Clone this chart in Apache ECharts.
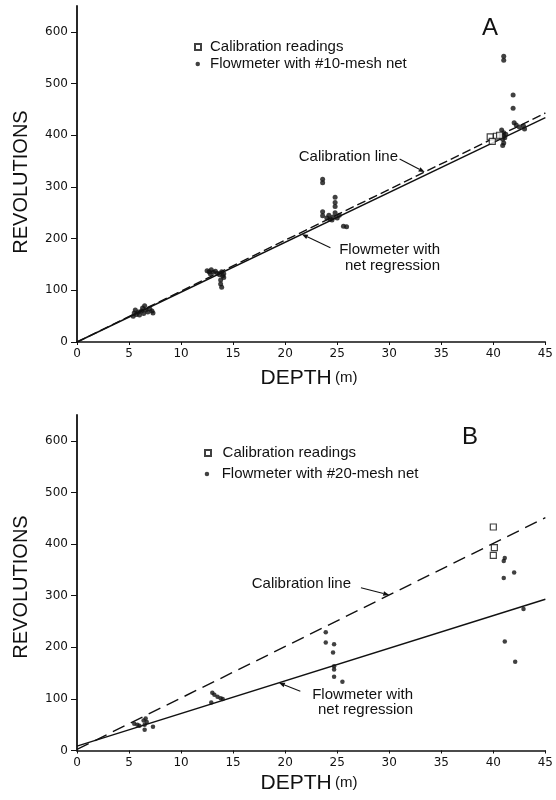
<!DOCTYPE html>
<html>
<head>
<meta charset="utf-8">
<script src="https://cdn.jsdelivr.net/npm/echarts@6/dist/echarts.min.js"></script>
<style>
html,body{margin:0;padding:0;background:#fff;}
#chart{width:556px;height:800px;}
</style>
</head>
<body>
<div id="chart"></div>
<script>
// ---- data ----
const xTicks = [0, 5, 10, 15, 20, 25, 30, 35, 40, 45];
const yTicks = [0, 100, 200, 300, 400, 500, 600];

// Panel A
const calibLineA = [[0, 0], [45, 443]];
const regLineA = [[0, 0], [45, 434]];
const calibReadingsA = [[39.7, 397], [40.3, 398], [39.9, 388], [40.6, 400]];
const flowmeterA = [
  [5.4, 50], [5.5, 56], [5.6, 62], [5.7, 53], [5.9, 58], [6.0, 52], [6.2, 60], [6.3, 66],
  [6.4, 55], [6.5, 70], [6.6, 62], [6.8, 58], [7.0, 64], [7.2, 60], [7.3, 56],
  [12.5, 138], [12.7, 136], [12.9, 140], [13.1, 135], [13.3, 137], [13.5, 133], [13.7, 130],
  [13.9, 136], [14.0, 128], [14.1, 132], [13.8, 120], [13.8, 112], [13.9, 106], [14.1, 125], [12.8, 132],
  [23.6, 315], [23.6, 308], [23.6, 252], [23.6, 244], [24.0, 240], [24.3, 238], [24.5, 236],
  [24.6, 242], [24.8, 250], [24.8, 262], [24.8, 270], [24.8, 280], [25.0, 240], [25.2, 245],
  [25.6, 224], [25.9, 223], [24.2, 245],
  [40.8, 410], [41.0, 405], [41.0, 398], [41.2, 402], [40.9, 392], [41.0, 385], [40.9, 380],
  [41.1, 395], [40.7, 400], [42.0, 424], [42.2, 420], [42.9, 418], [43.0, 412], [42.5, 416],
  [41.0, 553], [41.0, 545], [41.9, 478], [41.9, 452]
];

// Panel B
const calibLineB = [[0, 2], [45, 451]];
const regLineB = [[0, 8.5], [45, 293]];
const calibReadingsB = [[40.0, 433], [40.1, 393], [40.0, 378]];
const flowmeterB = [
  [5.5, 52], [5.8, 50], [6.0, 48], [6.4, 58], [6.6, 62], [6.7, 55], [6.5, 50], [6.5, 40], [7.3, 46],
  [13.0, 112], [13.2, 108], [13.5, 104], [13.8, 101], [14.0, 100], [12.9, 93],
  [23.9, 229], [23.9, 209], [24.7, 206], [24.6, 190], [24.7, 163], [24.7, 157], [24.7, 143], [25.5, 133],
  [41.1, 373], [41.0, 367], [41.0, 334], [42.0, 345], [42.9, 274], [41.1, 211], [42.1, 172]
];

const legendA = ['Calibration readings', 'Flowmeter with #10-mesh net'];
const legendB = ['Calibration readings', 'Flowmeter with #20-mesh net'];
const panelLetters = ['A', 'B'];
const yTitle = 'REVOLUTIONS';
const xTitle = 'DEPTH';
const xUnit = '(m)';
const annCalib = 'Calibration line';
const annReg = ['Flowmeter with', 'net regression'];

// ---- chart ----
const INK = '#111';
const tickFont = 'DejaVu Sans';
const textFont = 'Liberation Sans';
const chart = echarts.init(document.getElementById('chart'), null, {renderer: 'canvas'});

function xAxisDef(gi) {
  return {
    gridIndex: gi, type: 'value', min: 0, max: 45, interval: 5,
    axisLine: {show: true, onZero: false, lineStyle: {color: INK, width: 1.6}},
    axisTick: {show: true, length: 3, lineStyle: {color: INK, width: 1}},
    axisLabel: {color: INK, fontFamily: tickFont, fontSize: 12, margin: 6},
    splitLine: {show: false}
  };
}
function yAxisDef(gi) {
  return {
    gridIndex: gi, type: 'value', min: 0, max: 650,
    axisLine: {show: true, onZero: false, lineStyle: {color: INK, width: 1.8}},
    axisTick: {show: true, length: 6, customValues: yTicks, lineStyle: {color: INK, width: 1}},
    axisLabel: {color: INK, fontFamily: tickFont, fontSize: 12, margin: 9, customValues: yTicks},
    splitLine: {show: false}
  };
}
function lineSeries(data, gi, dashed) {
  return {
    type: 'line', data: data, xAxisIndex: gi, yAxisIndex: gi, showSymbol: false, symbol: 'none',
    silent: true, z: 2,
    lineStyle: {color: INK, width: 1.4, type: dashed ? dashed : 'solid'}
  };
}
function squareSeries(name, data, gi) {
  return {
    name: name, type: 'scatter', data: data, xAxisIndex: gi, yAxisIndex: gi,
    symbol: 'rect', symbolSize: 6, z: 4,
    itemStyle: {color: '#fff', borderColor: INK, borderWidth: 1.2}
  };
}
function dotSeries(name, data, gi, size) {
  return {
    name: name, type: 'scatter', data: data, xAxisIndex: gi, yAxisIndex: gi,
    symbol: 'circle', symbolSize: size, z: 3,
    itemStyle: {color: INK}
  };
}
function legendDef(name, left, top, w, pad) {
  return {
    data: [name], left: left, top: top, orient: 'vertical', padding: 0,
    itemWidth: w, itemHeight: w, selectedMode: false,
    textStyle: {color: INK, fontFamily: textFont, fontSize: 15, lineHeight: 16, padding: [0, 0, 0, pad]}
  };
}

const option = {
  backgroundColor: '#fff',
  animation: false,
  grid: [
    {left: 77, top: 6, width: 470, height: 336},
    {left: 77, top: 415, width: 470, height: 335.5}
  ],
  xAxis: [xAxisDef(0), xAxisDef(1)],
  yAxis: [yAxisDef(0), yAxisDef(1)],
  legend: [
    legendDef(legendA[0], 194, 39, 6, 4),
    legendDef(legendA[1], 195.5, 56, 4.5, 5),
    legendDef(legendB[0], 204, 445, 6, 6.6),
    legendDef(legendB[1], 204.7, 466, 4.5, 7.5)
  ],
  series: [
    lineSeries(calibLineA, 0, [9, 4]),
    lineSeries(regLineA, 0, null),
    squareSeries(legendA[0], calibReadingsA, 0),
    dotSeries(legendA[1], flowmeterA, 0, 5),
    lineSeries(calibLineB, 1, [13, 7]),
    lineSeries(regLineB, 1, null),
    squareSeries(legendB[0], calibReadingsB, 1),
    dotSeries(legendB[1], flowmeterB, 1, 4.5)
  ]
};
chart.setOption(option);

// ---- annotations (titles, letters, arrows) ----
function lineAt(line, x) {
  const [p0, p1] = line;
  return p0[1] + (p1[1] - p0[1]) * (x - p0[0]) / (p1[0] - p0[0]);
}
function arrow(gi, line, depth, dx, dy) {
  const tip = chart.convertToPixel({gridIndex: gi}, [depth, lineAt(line, depth)]);
  const tail = [tip[0] + dx, tip[1] + dy];
  const len = Math.hypot(dx, dy);
  const ux = -dx / len, uy = -dy / len; // direction tail->tip
  const hl = 6, hw = 2.4;
  const bx = tip[0] - ux * hl, by = tip[1] - uy * hl;
  return [
    {type: 'line', silent: true, shape: {x1: tail[0], y1: tail[1], x2: bx, y2: by},
     style: {stroke: INK, lineWidth: 1.1}},
    {type: 'polygon', silent: true,
     shape: {points: [[tip[0], tip[1]], [bx - uy * hw, by + ux * hw], [bx + uy * hw, by - ux * hw]]},
     style: {fill: INK}}
  ];
}
function txt(x, y, s, size, align) {
  return {
    type: 'text', x: x, y: y, silent: true,
    style: {text: s, fill: INK, font: size + 'px "' + textFont + '"', align: align || 'left', verticalAlign: 'middle'}
  };
}
function yTitleEl(x, y) {
  return {type: 'text', x: x, y: y, rotation: Math.PI / 2, silent: true,
    style: {text: yTitle, fill: INK, font: '20px "Liberation Sans"', align: 'center', verticalAlign: 'middle'}};
}
function xTitleEl(x, y) {
  return {type: 'text', x: x, y: y, silent: true,
    style: {
      text: '{a|' + xTitle + '} {b|' + xUnit + '}',
      align: 'center', verticalAlign: 'middle',
      rich: {
        a: {fontFamily: 'Liberation Sans', fontSize: 21, fill: INK},
        b: {fontFamily: 'Liberation Sans', fontSize: 15, fill: INK}
      }
    }};
}

const graphic = [].concat(
  [yTitleEl(21, 182), yTitleEl(21, 587), xTitleEl(309, 378), xTitleEl(309, 783)],
  [txt(490, 28, panelLetters[0], 24, 'center'), txt(470, 437, panelLetters[1], 24, 'center')],
  [txt(398, 157, annCalib, 15, 'right'),
   txt(440, 250, annReg[0], 15, 'right'),
   txt(440, 265.5, annReg[1], 15, 'right'),
   txt(351, 584, annCalib, 15, 'right'),
   txt(413, 695, annReg[0], 15, 'right'),
   txt(413, 709.5, annReg[1], 15, 'right')],
  arrow(0, calibLineA, 33.4, -25, -13),
  arrow(0, regLineA, 21.6, 28.6, 13.4),
  arrow(1, calibLineB, 30.0, -28.3, -7.3),
  arrow(1, regLineB, 19.4, 21.4, 8.4)
);
chart.setOption({graphic: graphic});
</script>
</body>
</html>
